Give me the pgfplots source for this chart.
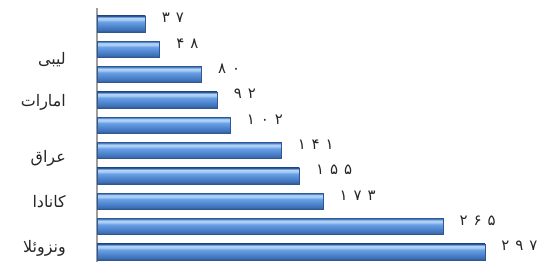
\documentclass[border=0pt]{standalone}
\usepackage{fontspec}
\usepackage{pgfplots}
\pgfplotsset{compat=1.18}
\TeXXeTstate=1
\newfontfamily\arabicfont[Script=Arabic]{DejaVu Sans}
\newfontfamily\digitfont[Script=Arabic,LetterSpace=40]{DejaVu Sans}
\definecolor{edge}{HTML}{2F5892}
\definecolor{bA}{HTML}{2C5790}
\definecolor{bB}{HTML}{3E6EB3}
\definecolor{bC}{HTML}{528AD4}
\definecolor{bD}{HTML}{6AA1E5}
\definecolor{bE}{HTML}{A4CAF3}
\definecolor{bG}{HTML}{B6D6F7}
\definecolor{bF}{HTML}{5B8FD2}
\definecolor{bH}{HTML}{3F6DB0}
\pgfdeclareverticalshading{barshade}{100bp}{color(0bp)=(bA); color(25bp)=(bA); color(31bp)=(bB); color(45bp)=(bC); color(57bp)=(bD); color(63bp)=(bE); color(69bp)=(bG); color(72.5bp)=(bF); color(75bp)=(bH); color(100bp)=(bH)}
\pgfplotsset{onebar/.style={xbar, bar width=16bp, bar shift=0pt, draw=edge, line width=0.6bp, shading=barshade,
  nodes near coords, point meta=explicit symbolic,
  every node near coord/.append style={font=\digitfont\fontsize{15}{17}\selectfont, anchor=west, xshift=13bp, yshift=6bp, text=black!85}}}
\begin{document}
\begin{tikzpicture}
\begin{axis}[
  at={(97bp,4bp)}, anchor=south west,
  scale only axis, width=447bp, height=254bp,
  xmin=0, xmax=342.3, ymin=-0.395, ymax=9.63,
  axis lines*=left, hide x axis,
  y axis line style={draw=black!38, line width=1.5bp},
  ytick={0.15,2,3.7,5.9,7.6},
  yticklabels={{\beginR ونزوئلا\endR},{\beginR کانادا\endR},{\beginR عراق\endR},{\beginR امارات\endR},{\beginR لیبی\endR}},
  ytick style={draw=none},
  yticklabel style={font=\arabicfont\fontsize{16}{18}\selectfont, anchor=east, inner sep=0pt, xshift=-31bp, text=black!85},
  clip=false,
]
\addplot[onebar] coordinates {(297,0) [۲۹۷]};
\addplot[onebar] coordinates {(265,1) [۲۶۵]};
\addplot[onebar] coordinates {(173,2) [۱۷۳]};
\addplot[onebar] coordinates {(155,3) [۱۵۵]};
\addplot[onebar] coordinates {(141,4) [۱۴۱]};
\addplot[onebar] coordinates {(102,5) [۱۰۲]};
\addplot[onebar] coordinates {(92,6) [۹۲]};
\addplot[onebar] coordinates {(80,7) [۸۰]};
\addplot[onebar] coordinates {(48,8) [۴۸]};
\addplot[onebar] coordinates {(37,9) [۳۷]};
\end{axis}
\pgfresetboundingbox
\path[use as bounding box] (0,0) rectangle (544bp,266bp);
\end{tikzpicture}
\end{document}
